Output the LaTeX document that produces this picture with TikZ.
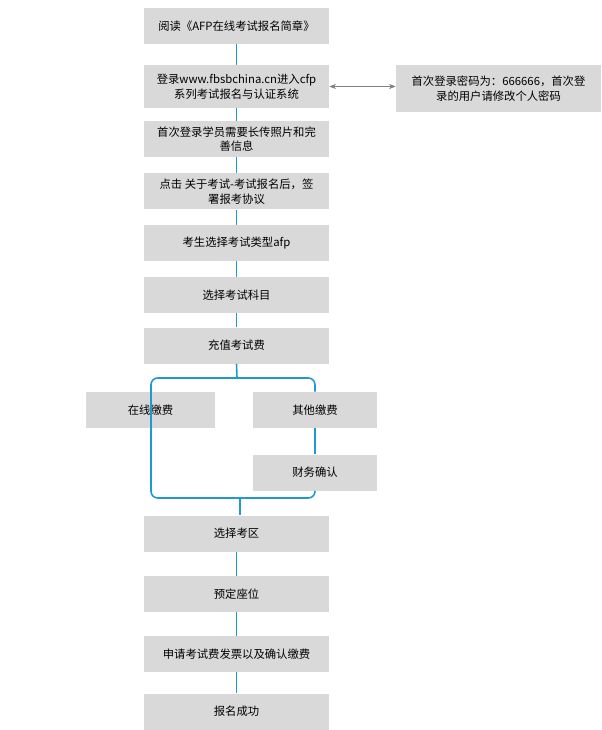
\documentclass[tikz,border=0pt]{standalone}
\usepackage{fontspec}
\setmainfont{Noto Sans CJK SC}
\usetikzlibrary{arrows.meta}
\definecolor{boxgray}{HTML}{D9D9D9}
\definecolor{linkblue}{HTML}{1E9AD0}
\tikzset{
  stepbox/.style={fill=boxgray, minimum width=138.75pt, minimum height=27pt,
    inner sep=1pt, align=center, font=\fontsize{8.5pt}{11pt}\selectfont},
  sidebox/.style={stepbox, minimum width=153.75pt, minimum height=35pt},
  link/.style={draw=linkblue, line width=1.2pt},
}
\begin{document}
\begin{tikzpicture}[x=0.75pt, y=-0.75pt]
  \useasboundingbox (0,0) rectangle (601,730);
  % main column
  \node[stepbox] (read) at (236.5,26) {阅读《AFP在线考试报名简章》};
  \node[stepbox, minimum height=32pt] (login) at (236.5,86.5) {登录www.fbsbchina.cn进入cfp\\系列考试报名与认证系统};
  \node[sidebox] (pwd) at (498.5,88.5) {首次登录密码为：666666，首次登\\录的用户请修改个人密码};
  \node[stepbox] (photo) at (236.5,139) {首次登录学员需要长传照片和完\\善信息};
  \node[stepbox] (sign) at (236.5,191.5) {点击 关于考试-考试报名后，签\\署报考协议};
  \node[stepbox] (type) at (236.5,243) {考生选择考试类型afp};
  \node[stepbox] (subj) at (236.5,295) {选择考试科目};
  \node[stepbox] (fee) at (236.5,345.5) {充值考试费};
  % payment branch
  \node[stepbox, minimum width=96.75pt] (online) at (150.5,410) {在线缴费};
  \node[stepbox, minimum width=93pt] (other) at (315,410) {其他缴费};
  \node[stepbox, minimum width=93pt] (confirm) at (315,472.5) {财务确认};
  \node[stepbox] (area) at (236.5,533.5) {选择考区};
  \node[stepbox] (seat) at (236.5,594) {预定座位};
  \node[stepbox] (bill) at (236.5,654) {申请考试费发票以及确认缴费};
  \node[stepbox] (done) at (236.5,711.5) {报名成功};

  \coordinate (split) at (237,378);
  \coordinate (join) at (240,498);

  \draw[link] (read) -- (login);
  \draw[link] (login) -- (photo);
  \draw[link] (photo) -- (sign);
  \draw[link] (sign) -- (type);
  \draw[link] (type) -- (subj);
  \draw[link] (subj) -- (fee);
  \draw[link] (fee.south) -- (split);
  \draw[link, rounded corners=5pt] (other.north) |- (151,378) -- (151,498) -| (confirm.south);
  \draw[link] (other) -- (confirm);
  \draw[link] (join) -- (area.north -| join);
  \draw[link] (area) -- (seat);
  \draw[link] (seat) -- (bill);
  \draw[link] (bill) -- (done);
  \draw[gray, {Stealth[length=5pt]}-{Stealth[length=5pt]}] (login.east) -- (pwd.west |- login.east);
\end{tikzpicture}
\end{document}
